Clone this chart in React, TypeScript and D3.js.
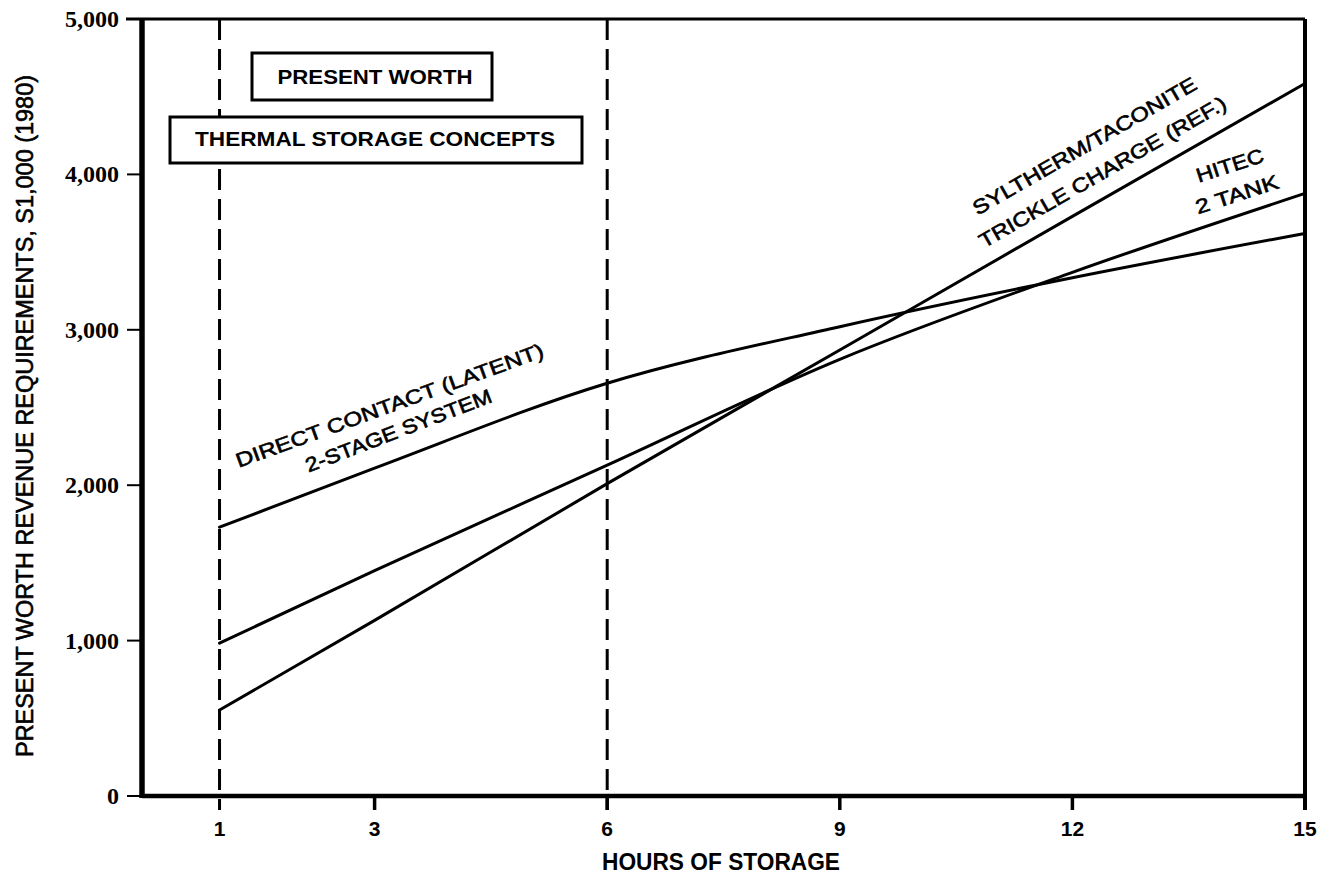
import React from "react";
import * as d3 from "d3";

const hours = [1, 3, 6, 9, 12, 15];
const sylthermValues = [553, 1130, 2010, 2870, 3730, 4585];
const hitecValues = [984, 1450, 2129, 2810, 3370, 3878];
const directValues = [1730, 2110, 2656, 3020, 3335, 3620];

const xTicks = [3, 6, 9, 12, 15];
const xTickLabels = ["3", "6", "9", "12", "15"];
const yTicks = [0, 1000, 2000, 3000, 4000, 5000];
const yTickLabels = ["0", "1,000", "2,000", "3,000", "4,000", "5,000"];
const dashedHours = [1, 6];

const W = 1325;
const H = 876;

export default function App() {
  const x = d3.scaleLinear().domain([0, 15]).range([142, 1305]);
  const y = d3.scaleLinear().domain([0, 5000]).range([796, 19]);

  const line = d3
    .line<[number, number]>()
    .x((d) => x(d[0]))
    .y((d) => y(d[1]))
    .curve(d3.curveMonotoneX);

  const series = [sylthermValues, hitecValues, directValues].map((vals) =>
    hours.map((h, i) => [h, vals[i]] as [number, number])
  );

  const sans = "'Liberation Sans', Arial, Helvetica, sans-serif";
  const serif = "'Liberation Serif', 'Times New Roman', serif";

  const x0 = x(0);
  const x15 = x(15);
  const yTop = y(5000);
  const yBot = y(0);

  const rotLabel = (
    text: string,
    cx: number,
    cy: number,
    angle: number,
    len: number,
    size = 20
  ) => (
    <text
      key={text}
      transform={`translate(${cx},${cy}) rotate(${angle})`}
      textAnchor="middle"
      fontFamily={sans}
      fontSize={size}
      fill="#000"
      stroke="#000"
      strokeWidth={0.6}
      textLength={len}
      lengthAdjust="spacingAndGlyphs"
    >
      {text}
    </text>
  );

  return (
    <div style={{ position: "absolute", left: 0, top: 0 }}>
      <svg width={W} height={H} viewBox={`0 0 ${W} ${H}`} style={{ display: "block", background: "#fff" }}>
        <rect x={0} y={0} width={W} height={H} fill="#fff" />

        {/* dashed verticals */}
        {dashedHours.map((h) => (
          <line
            key={h}
            x1={x(h)}
            x2={x(h)}
            y1={yTop}
            y2={yBot + 14}
            stroke="#000"
            strokeWidth={3}
            strokeDasharray="21 9"
          />
        ))}

        {/* frame */}
        <line x1={126} x2={x15} y1={yTop} y2={yTop} stroke="#000" strokeWidth={3} />
        <line x1={x15} x2={x15} y1={yTop} y2={yBot + 14} stroke="#000" strokeWidth={4} />
        <line x1={x0} x2={x15} y1={yBot} y2={yBot} stroke="#000" strokeWidth={4.5} />
        <line x1={x0} x2={x0} y1={yTop - 1} y2={yBot + 2} stroke="#000" strokeWidth={5.5} />

        {/* y ticks */}
        {yTicks.map((v, i) => (
          <g key={v}>
            <line x1={127} x2={x0} y1={y(v)} y2={y(v)} stroke="#000" strokeWidth={2} />
            <text
              x={119}
              y={y(v) + 8}
              textAnchor="end"
              fontFamily={serif}
              fontWeight="bold"
              fontSize={24}
              fill="#000"
            >
              {yTickLabels[i]}
            </text>
          </g>
        ))}

        {/* x ticks */}
        {xTicks.map((v, i) => (
          <g key={v}>
            <line x1={x(v)} x2={x(v)} y1={yBot} y2={yBot + 14} stroke="#000" strokeWidth={3.5} />
            <text
              x={x(v)}
              y={836}
              textAnchor="middle"
              fontFamily={sans}
              fontWeight="bold"
              fontSize={21}
              fill="#000"
            >
              {xTickLabels[i]}
            </text>
          </g>
        ))}
        <text x={x(1)} y={836} textAnchor="middle" fontFamily={sans} fontWeight="bold" fontSize={21} fill="#000">
          1
        </text>

        {/* series */}
        {series.map((pts, i) => (
          <path key={i} d={line(pts) || ""} fill="none" stroke="#000" strokeWidth={3} strokeLinecap="round" />
        ))}

        {/* title boxes */}
        <rect x={252} y={53} width={240} height={47} fill="#fff" stroke="#000" strokeWidth={3} />
        <text
          x={375}
          y={84}
          textAnchor="middle"
          fontFamily={sans}
          fontWeight="bold"
          fontSize={19.5}
          textLength={195}
          lengthAdjust="spacingAndGlyphs"
          fill="#000"
        >
          PRESENT WORTH
        </text>
        <rect x={170} y={117} width={412} height={46} fill="#fff" stroke="#000" strokeWidth={3} />
        <text
          x={375}
          y={146}
          textAnchor="middle"
          fontFamily={sans}
          fontWeight="bold"
          fontSize={19.5}
          textLength={360}
          lengthAdjust="spacingAndGlyphs"
          fill="#000"
        >
          THERMAL STORAGE CONCEPTS
        </text>

        {/* curve labels */}
        {rotLabel("DIRECT CONTACT (LATENT)", 392, 412, -20, 326)}
        {rotLabel("2-STAGE SYSTEM", 401, 437, -21, 198)}
        {rotLabel("SYLTHERM/TACONITE", 1088, 152, -30, 255)}
        {rotLabel("TRICKLE CHARGE (REF.)", 1106, 178, -30, 282)}
        {rotLabel("HITEC", 1232, 172, -18, 70)}
        {rotLabel("2 TANK", 1239, 201, -18, 86)}

        {/* axis titles */}
        <text
          x={721}
          y={870}
          textAnchor="middle"
          fontFamily={sans}
          fontWeight="bold"
          fontSize={23}
          textLength={238}
          lengthAdjust="spacingAndGlyphs"
          fill="#000"
        >
          HOURS OF STORAGE
        </text>
        <text
          transform={`translate(33,416) rotate(-90)`}
          textAnchor="middle"
          fontFamily={sans}
          fontSize={23}
          fill="#000"
          stroke="#000"
          strokeWidth={0.6}
          textLength={682}
          lengthAdjust="spacingAndGlyphs"
        >
          PRESENT WORTH REVENUE REQUIREMENTS, S1,000 (1980)
        </text>
      </svg>
    </div>
  );
}
